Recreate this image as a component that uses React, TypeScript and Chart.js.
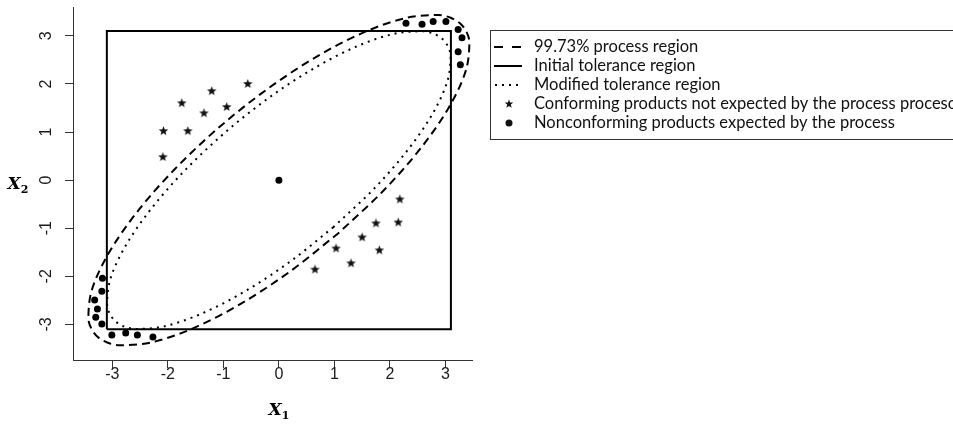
import React, { useEffect, useRef } from "react";
import { Chart, registerables } from "chart.js";

Chart.register(...registerables);

// Axis set-up
const X_TICKS = [-3, -2, -1, 0, 1, 2, 3];
const Y_TICKS = [-3, -2, -1, 0, 1, 2, 3];
const X_MIN = -3.71;
const X_MAX = 3.48;
const Y_MIN = -3.74;
const Y_MAX = 3.6;

// Initial tolerance region (rectangle corners)
const TOL_X = [-3.1, 3.1, 3.1, -3.1, -3.1];
const TOL_Y = [-3.1, -3.1, 3.1, 3.1, -3.1];

// 99.73% process region (dashed ellipse outline)
const PROC_X = [1.088, 0.206, -0.69, -1.538, -2.282, -2.87, -3.093, -3.263, -3.377, -3.433, -3.37, -3.076, -2.574, -1.895, -1.088, -0.206, 0.69, 1.538, 2.282, 2.87, 3.093, 3.263, 3.377, 3.433, 3.37, 3.076, 2.574, 1.895, 1.088];
const PROC_Y = [-1.088, -1.895, -2.574, -3.076, -3.37, -3.433, -3.377, -3.263, -3.093, -2.87, -2.282, -1.538, -0.69, 0.206, 1.088, 1.895, 2.574, 3.076, 3.37, 3.433, 3.377, 3.263, 3.093, 2.87, 2.282, 1.538, 0.69, -0.206, -1.088];

// Modified tolerance region (dotted ellipse outline)
const MOD_X = [0.98, 0.186, -0.622, -1.387, -2.057, -2.587, -2.788, -2.941, -3.044, -3.095, -3.037, -2.773, -2.319, -1.708, -0.98, -0.186, 0.622, 1.387, 2.057, 2.587, 2.788, 2.941, 3.044, 3.095, 3.037, 2.773, 2.319, 1.708, 0.98];
const MOD_Y = [-0.98, -1.708, -2.319, -2.773, -3.037, -3.095, -3.044, -2.941, -2.788, -2.587, -2.057, -1.387, -0.622, 0.186, 0.98, 1.708, 2.319, 2.773, 3.037, 3.095, 3.044, 2.941, 2.788, 2.587, 2.057, 1.387, 0.622, -0.186, -0.98];

// Conforming products not expected by the process (stars)
const CONF_X = [-2.09, -2.08, -1.64, -1.75, -1.35, -1.21, -0.94, -0.56, 0.65, 1.03, 1.3, 1.5, 1.81, 1.75, 2.15, 2.18];
const CONF_Y = [0.49, 1.03, 1.03, 1.61, 1.4, 1.86, 1.53, 2.01, -1.85, -1.41, -1.72, -1.18, -1.45, -0.89, -0.87, -0.39];

// Nonconforming products expected by the process (dots)
const NONC_X = [-3.18, -3.19, -3.32, -3.27, -3.3, -3.19, -3.01, -2.76, -2.55, -2.27, 2.29, 2.58, 2.78, 3.01, 3.23, 3.3, 3.23, 3.27];
const NONC_Y = [-2.04, -2.31, -2.49, -2.68, -2.85, -2.99, -3.22, -3.18, -3.22, -3.26, 3.26, 3.24, 3.3, 3.3, 3.13, 2.96, 2.67, 2.4];

// Process centre
const CENTER_X = [0];
const CENTER_Y = [0];

const LEGEND_LABELS = [
  "99.73% process region",
  "Initial tolerance region",
  "Modified tolerance region",
  "Conforming products not expected by the process proceso",
  "Nonconforming products expected by the process",
];

const zip = (xs: number[], ys: number[]) => xs.map((x, i) => ({ x, y: ys[i] }));

function drawStarPath(ctx: CanvasRenderingContext2D, cx: number, cy: number, ro: number, ri: number) {
  ctx.beginPath();
  for (let i = 0; i < 10; i++) {
    const r = i % 2 === 0 ? ro : ri;
    const a = -Math.PI / 2 + (i * Math.PI) / 5;
    const px = cx + r * Math.cos(a);
    const py = cy + r * Math.sin(a);
    if (i === 0) ctx.moveTo(px, py);
    else ctx.lineTo(px, py);
  }
  ctx.closePath();
}

function makeStar(): HTMLCanvasElement {
  const c = document.createElement("canvas");
  c.width = 11;
  c.height = 11;
  const g = c.getContext("2d")!;
  g.fillStyle = "#111";
  drawStarPath(g, 5.5, 6, 5, 2.1);
  g.fill();
  return c;
}

const textPlugin = {
  id: "rText",
  afterDraw(chart: any) {
    const ctx: CanvasRenderingContext2D = chart.ctx;
    const xs = chart.scales.x;
    const ys = chart.scales.y;
    ctx.save();
    // tick labels
    ctx.fillStyle = "#1a1a1a";
    ctx.font = '16px "Liberation Sans", Arial, sans-serif';
    ctx.textAlign = "center";
    ctx.textBaseline = "middle";
    X_TICKS.forEach((v) => ctx.fillText(String(v), xs.getPixelForValue(v), 375));
    Y_TICKS.forEach((v) => {
      ctx.save();
      ctx.translate(47, ys.getPixelForValue(v));
      ctx.rotate(-Math.PI / 2);
      ctx.fillText(String(v), 0, 0);
      ctx.restore();
    });
    // axis titles
    const drawTitle = (cx: number, cy: number, sub: string) => {
      ctx.fillStyle = "#000";
      ctx.font = 'italic bold 17px "DejaVu Serif", serif';
      const wX = ctx.measureText("X").width;
      ctx.font = 'bold 11px "DejaVu Serif", serif';
      const wS = ctx.measureText(sub).width;
      const left = cx - (wX + wS) / 2;
      ctx.textAlign = "left";
      ctx.textBaseline = "alphabetic";
      ctx.font = 'italic bold 17px "DejaVu Serif", serif';
      ctx.fillText("X", left, cy + 6);
      ctx.font = 'bold 11px "DejaVu Serif", serif';
      ctx.fillText(sub, left + wX, cy + 10);
    };
    drawTitle(279, 409, "1");
    drawTitle(18, 183, "2");

    // legend
    const bx = 490.5;
    const by = 30.5;
    ctx.strokeStyle = "#333";
    ctx.lineWidth = 1;
    ctx.setLineDash([]);
    ctx.strokeRect(bx, by, 500, 109);
    const rowY = [47, 66, 85, 104, 123];
    ctx.font = '16.5px Lato, "Open Sans", sans-serif';
    ctx.fillStyle = "#111";
    ctx.textAlign = "left";
    ctx.textBaseline = "middle";
    LEGEND_LABELS.forEach((t, i) => ctx.fillText(t, 534, rowY[i]));
    ctx.strokeStyle = "#000";
    ctx.lineWidth = 2;
    // dashed
    ctx.setLineDash([9, 9]);
    ctx.beginPath();
    ctx.moveTo(494, rowY[0]);
    ctx.lineTo(522, rowY[0]);
    ctx.stroke();
    // solid
    ctx.setLineDash([]);
    ctx.beginPath();
    ctx.moveTo(494, rowY[1]);
    ctx.lineTo(522, rowY[1]);
    ctx.stroke();
    // dotted
    ctx.setLineDash([2, 5]);
    ctx.beginPath();
    ctx.moveTo(495, rowY[2]);
    ctx.lineTo(521, rowY[2]);
    ctx.stroke();
    ctx.setLineDash([]);
    // star
    ctx.fillStyle = "#111";
    drawStarPath(ctx, 509, rowY[3], 4.5, 1.9);
    ctx.fill();
    // dot
    ctx.beginPath();
    ctx.arc(509, rowY[4], 3.5, 0, Math.PI * 2);
    ctx.fill();
    ctx.restore();
  },
};

export default function App() {
  const ref = useRef<HTMLCanvasElement | null>(null);
  useEffect(() => {
    if (!ref.current) return;
    const star = makeStar();
    const axisCommon = {
      type: "linear" as const,
      grid: { display: true, drawOnChartArea: false, drawTicks: true, tickLength: 8, color: "#333", lineWidth: 1 },
      border: { display: true, color: "#333", width: 1 },
      ticks: { display: false },
    };
    const chart = new Chart(ref.current, {
      type: "scatter",
      data: {
        datasets: [
          {
            label: "center",
            data: zip(CENTER_X, CENTER_Y),
            pointStyle: "circle",
            pointRadius: 3.5,
            pointBorderWidth: 0,
            backgroundColor: "#000",
            borderColor: "#000",
          },
          {
            label: "Nonconforming products expected by the process",
            data: zip(NONC_X, NONC_Y),
            pointStyle: "circle",
            pointRadius: 3.5,
            pointBorderWidth: 0,
            backgroundColor: "#000",
            borderColor: "#000",
          },
          {
            label: "Conforming products not expected by the process",
            data: zip(CONF_X, CONF_Y),
            pointStyle: star,
            pointRadius: 5,
            backgroundColor: "#000",
            borderColor: "#000",
          },
          {
            label: "99.73% process region",
            data: zip(PROC_X, PROC_Y),
            showLine: true,
            pointRadius: 0,
            borderColor: "#000",
            borderWidth: 2,
            borderDash: [8, 5],
            tension: 0.33,
            fill: false,
          },
          {
            label: "Modified tolerance region",
            data: zip(MOD_X, MOD_Y),
            showLine: true,
            pointRadius: 0,
            borderColor: "#000",
            borderWidth: 2,
            borderDash: [2, 5],
            tension: 0.33,
            fill: false,
          },
          {
            label: "Initial tolerance region",
            data: zip(TOL_X, TOL_Y),
            showLine: true,
            pointRadius: 0,
            borderColor: "#000",
            borderWidth: 2,
            tension: 0,
            fill: false,
          },
        ],
      },
      options: {
        responsive: false,
        animation: false,
        devicePixelRatio: 1,
        layout: { padding: { left: 0, right: 481, top: 7, bottom: 0 } },
        plugins: { legend: { display: false }, tooltip: { enabled: false }, title: { display: false } },
        scales: {
          x: {
            ...axisCommon,
            min: X_MIN,
            max: X_MAX,
            afterBuildTicks: (s: any) => {
              s.ticks = X_TICKS.map((v) => ({ value: v }));
            },
            afterFit: (s: any) => {
              s.height = 66;
            },
          },
          y: {
            ...axisCommon,
            min: Y_MIN,
            max: Y_MAX,
            afterBuildTicks: (s: any) => {
              s.ticks = Y_TICKS.map((v) => ({ value: v }));
            },
            afterFit: (s: any) => {
              s.width = 73;
            },
          },
        },
      },
      plugins: [textPlugin],
    });
    return () => chart.destroy();
  }, []);
  return (
    <div style={{ position: "fixed", left: 0, top: 0, width: 953, height: 426, background: "#fff" }}>
      <canvas ref={ref} width={953} height={426} style={{ display: "block" }} />
    </div>
  );
}
